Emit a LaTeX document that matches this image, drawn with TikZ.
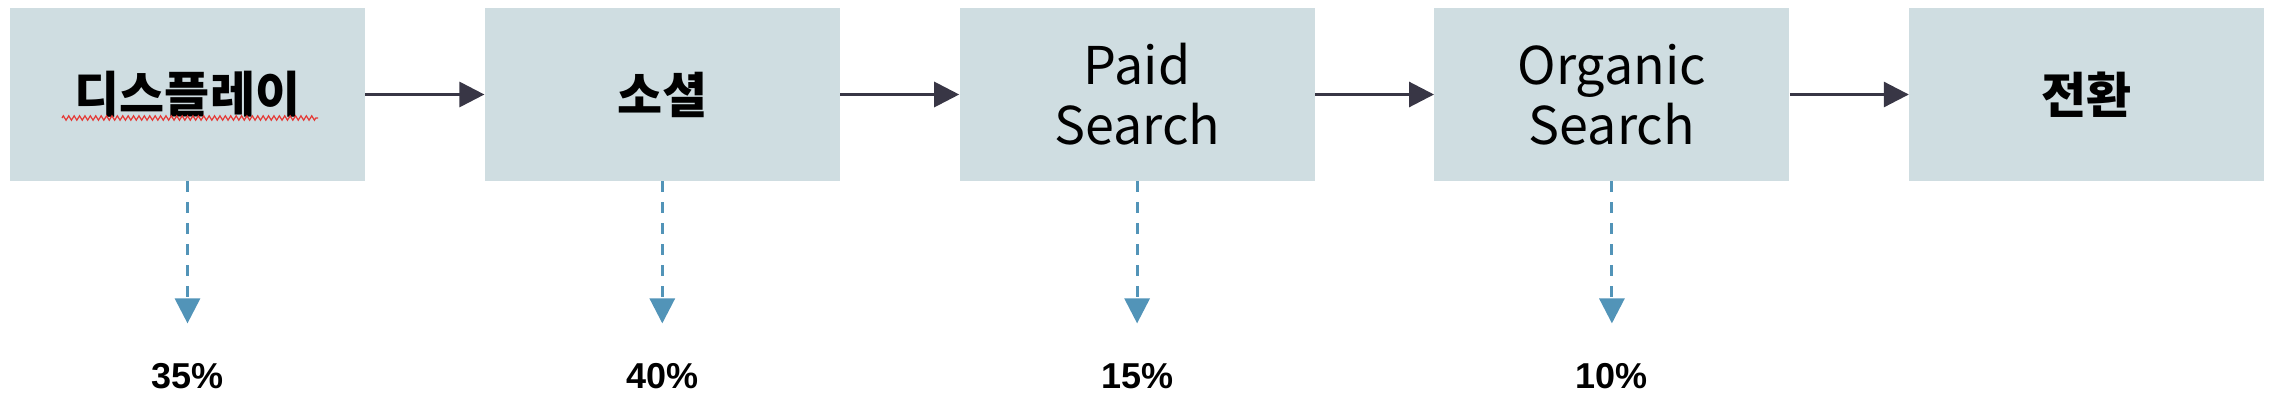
\documentclass[tikz,border=0pt]{standalone}
\usepackage{fontspec}
\setmainfont{Noto Sans CJK KR}
\newfontfamily\pctfont{Liberation Sans}
\usetikzlibrary{positioning, arrows.meta, decorations.pathmorphing}
\definecolor{boxgray}{HTML}{CFDDE1}
\definecolor{arrowdark}{HTML}{383645}
\definecolor{dropblue}{HTML}{5294B8}
\definecolor{spellred}{HTML}{E53935}

\begin{document}
\begin{tikzpicture}[x=0.5pt, y=0.5pt,
	stage/.style={fill=boxgray, minimum width=177.5pt, minimum height=86.5pt, inner sep=0pt, align=center, font=\fontsize{26}{30}\selectfont},
	kor/.style={font=\fontsize{24.5}{30}\selectfont\bfseries},
	flow/.style={-{Triangle[length=12.5pt,width=12.5pt]}, line width=1.5pt, color=arrowdark},
	drop/.style={-{Triangle[length=12.5pt,width=12.5pt]}, line width=1.5pt, color=dropblue, dash pattern=on 5.5pt off 5pt, shorten >=20pt},
	share/.style={inner sep=0pt, font=\pctfont\bfseries\fontsize{18}{20}\selectfont}]
			\useasboundingbox (0,0) rectangle (2274,-402);
			\node (n1) [stage, kor] at (187.5,-94.5) {디스플레이};
			\node (n2) [stage, kor, right=59.5pt of n1] {소셜};
			\node (n3) [stage, right=59.5pt of n2] {Paid\\Search};
			\node (n4) [stage, right=59.5pt of n3] {Organic\\Search};
			\node (n5) [stage, kor, right=59.5pt of n4] {전환};
			\draw [spellred, line width=0.6pt, decorate, decoration={zigzag, amplitude=1.1pt, segment length=2.7pt}] (62,-118) -- (318,-118);

			\node (p1) [share, below=91pt of n1] {35\%};
			\node (p2) [share, below=91pt of n2] {40\%};
			\node (p3) [share, below=91pt of n3] {15\%};
			\node (p4) [share, below=91pt of n4] {10\%};

			\draw [flow] (n1) -- (n2);
			\draw [flow] (n2) -- (n3);
			\draw [flow] (n3) -- (n4);
			\draw [flow] (n4) -- (n5);

			\draw [drop] (n1) -- (p1);
			\draw [drop] (n2) -- (p2);
			\draw [drop] (n3) -- (p3);
			\draw [drop] (n4) -- (p4);
		\end{tikzpicture}
\end{document}
